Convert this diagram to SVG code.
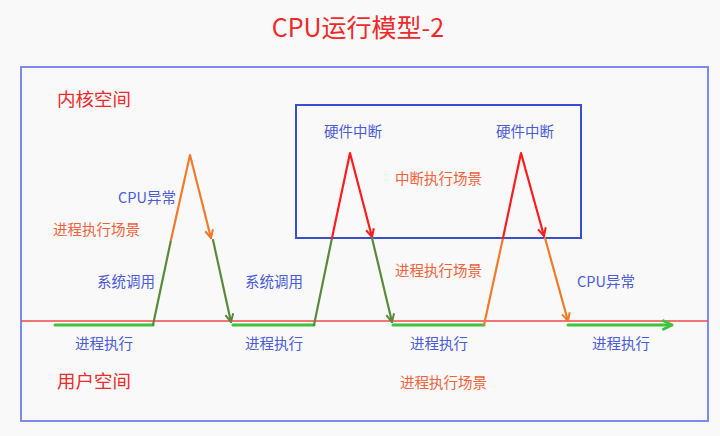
<svg xmlns="http://www.w3.org/2000/svg" width="720" height="436" viewBox="0 0 720 436">
<defs>
<style>
text{font-family:"Noto Sans CJK SC","Noto Sans",sans-serif;}
.lbl{font-size:14.5px;}
.blue{fill:#4a5bd8;}
.org{fill:#f2613a;}
.red{fill:#ee2a2a;}
.ln{fill:none;stroke-width:2.2;stroke-linecap:round;stroke-linejoin:round;}
.g{stroke:#3cc43c;stroke-width:3;}
.dg{stroke:#5a8a3c;}
.o{stroke:#f27a2a;}
.r{stroke:#ff1c1c;}
</style>
<marker id="aO" viewBox="0 0 10 10" refX="9" refY="5" markerWidth="10" markerHeight="10" markerUnits="userSpaceOnUse" orient="auto"><path d="M1,1 L9,5 L1,9" fill="none" stroke="#f27a2a" stroke-width="2"/></marker>
<marker id="aR" viewBox="0 0 10 10" refX="9" refY="5" markerWidth="10" markerHeight="10" markerUnits="userSpaceOnUse" orient="auto"><path d="M1,1 L9,5 L1,9" fill="none" stroke="#ff1c1c" stroke-width="2"/></marker>
<marker id="aD" viewBox="0 0 10 10" refX="9" refY="5" markerWidth="10" markerHeight="10" markerUnits="userSpaceOnUse" orient="auto"><path d="M1,1 L9,5 L1,9" fill="none" stroke="#5a8a3c" stroke-width="2"/></marker>
<marker id="aG" viewBox="0 0 10 10" refX="9" refY="5" markerWidth="12" markerHeight="12" markerUnits="userSpaceOnUse" orient="auto"><path d="M1,1 L9,5 L1,9" fill="none" stroke="#3cc43c" stroke-width="2.2"/></marker>
</defs>
<rect x="0" y="0" width="720" height="436" fill="#f9f9f9"/>
<text id="title" x="358" y="37" text-anchor="middle" font-size="25" class="red">CPU运行模型-2</text>
<g id="outer"><rect x="21" y="67" width="687" height="354" fill="none" stroke="#7d8bee" stroke-width="2"/></g>
<g id="inner"><rect x="296" y="105" width="285" height="133" fill="none" stroke="#3a4fcf" stroke-width="2"/></g>
<line x1="21" y1="321" x2="708" y2="321" stroke="#f04848" stroke-width="1.3"/>
<g id="kernel"><text x="57" y="106" font-size="18.5" class="red">内核空间</text></g>
<g id="user"><text x="57" y="388" font-size="18.5" class="red">用户空间</text></g>
<g id="connectors">
<path class="ln g" d="M55,325 L153,325"/>
<path class="ln dg" d="M153,325 L171,240"/>
<path class="ln o" d="M171,240 L190,155 L211,238" marker-end="url(#aO)"/>
<path class="ln dg" d="M213,240 L231,322" marker-end="url(#aD)"/>
<path class="ln g" d="M233,325 L314,325"/>
<path class="ln dg" d="M314,325 L332,238"/>
<path class="ln r" d="M332,238 L350,153 L372,237" marker-end="url(#aR)"/>
<path class="ln dg" d="M372,238 L392,322" marker-end="url(#aD)"/>
<path class="ln g" d="M393,325 L484,325"/>
<path class="ln o" d="M484,325 L503,238"/>
<path class="ln r" d="M503,238 L521,153 L544,236" marker-end="url(#aR)"/>
<path class="ln o" d="M545,238 L568,321" marker-end="url(#aO)"/>
<path class="ln g" d="M568,325 L672,325" marker-end="url(#aG)"/>
</g>
<g id="labels">
<text x="118" y="203" class="lbl blue">CPU异常</text>
<text x="53" y="235" class="lbl org">进程执行场景</text>
<text x="97" y="287" class="lbl blue">系统调用</text>
<text x="75" y="349" class="lbl blue">进程执行</text>
<text x="245" y="287" class="lbl blue">系统调用</text>
<text x="245" y="349" class="lbl blue">进程执行</text>
<text x="324" y="137" class="lbl blue">硬件中断</text>
<text x="496" y="137" class="lbl blue">硬件中断</text>
<text x="395" y="184" class="lbl org">中断执行场景</text>
<text x="395" y="276" class="lbl org">进程执行场景</text>
<text x="577" y="287" class="lbl blue">CPU异常</text>
<text x="410" y="349" class="lbl blue">进程执行</text>
<text x="592" y="349" class="lbl blue">进程执行</text>
<text x="400" y="388" class="lbl org">进程执行场景</text>
</g>
</svg>
